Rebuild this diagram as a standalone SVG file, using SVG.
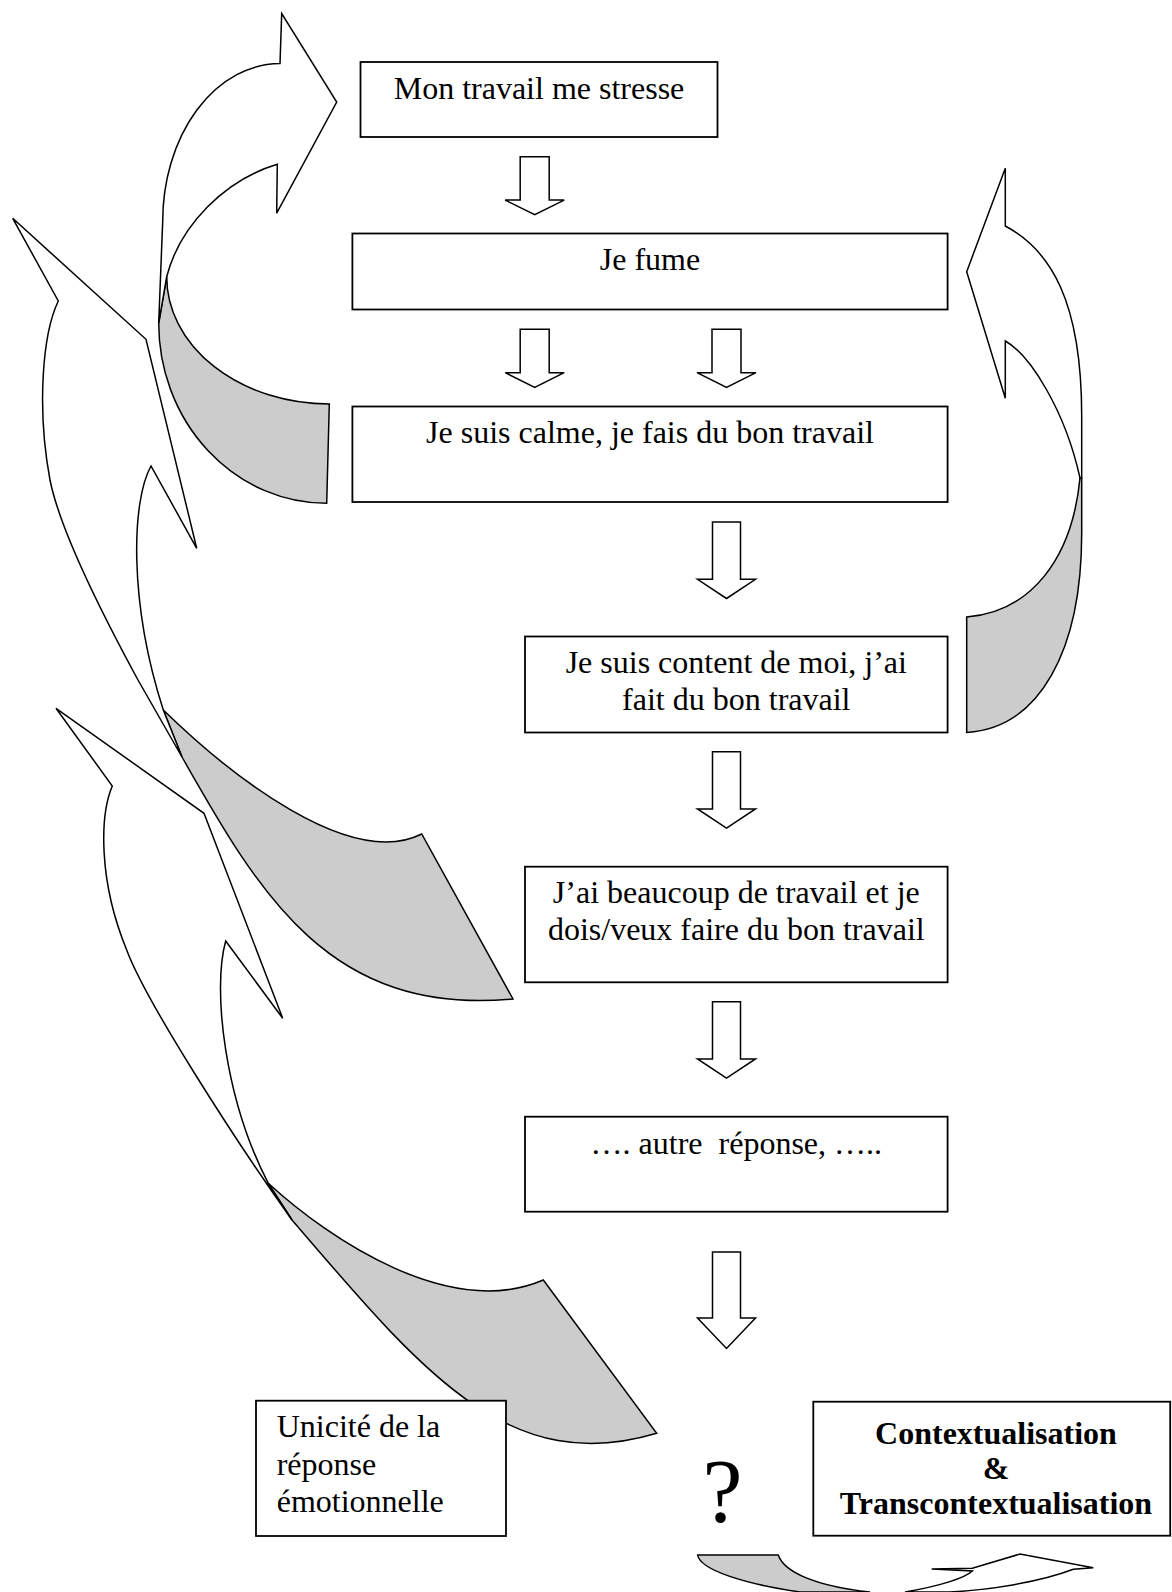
<svg xmlns="http://www.w3.org/2000/svg" width="1172" height="1592" viewBox="0 0 1172 1592">
  <style>
    .box { fill: #ffffff; stroke: #000000; stroke-width: 1.8; }
    .txt { font-family: "Liberation Serif", "Times New Roman", serif; font-size: 32px; fill: #000000; }
    .mid { text-anchor: middle; }
    .bold { font-weight: bold; }
    .blk { fill: #ffffff; stroke: #000000; stroke-width: 1.5; stroke-linejoin: miter; }
    .front { fill: #ffffff; stroke: #000000; stroke-width: 1.5; stroke-linejoin: miter; }
    .back { fill: #cccccc; stroke: #000000; stroke-width: 1.5; stroke-linejoin: miter; }
  </style>
  <defs>
    <!-- block arrow pointing down, origin at top centre of the shaft -->
    <path id="down-short" d="M-14.5,0 L14.5,0 L14.5,43.4 L29.5,43.4 L0,58 L-29.5,43.4 L-14.5,43.4 Z"/>
    <path id="down-mid" d="M-14,0 L14,0 L14,57.3 L29,57.3 L0,76.5 L-29,57.3 L-14,57.3 Z"/>
    <path id="down-long" d="M-14,0 L14,0 L14,66 L29,66 L0,96.5 L-29,66 L-14,66 Z"/>
  </defs>
  <rect width="1172" height="1592" fill="#ffffff"/>

  <g id="connectors">
    <!-- straight block arrows down the main column -->
    <use href="#down-short" class="blk" x="534.7" y="156.7"/>
    <use href="#down-short" class="blk" x="534.7" y="329.3"/>
    <use href="#down-short" class="blk" x="726.5" y="329.3"/>
    <use href="#down-mid" class="blk" x="726.5" y="522"/>
    <use href="#down-mid" class="blk" x="726.5" y="751.7"/>
    <use href="#down-mid" class="blk" x="726.5" y="1001.7"/>
    <use href="#down-long" class="blk" x="726.5" y="1252"/>

    <!-- curved arrow: calm box back up to the stress box -->
    <g id="loop-a">
      <path class="back" d="M166.7,276.7 A162.6 127.3 0 0 0 329.3,404 L326.7,503.3 A168 180.3 0 0 1 158.7,323 Z"/>
      <path class="front" d="M280,63.6 L281.7,13.6 L336.7,102 L276.7,213.2 L277.3,164.3 C225,180 180,225 166.7,276.7 L158.7,323 L162.7,221.4 A117.3 157.8 0 0 1 280,63.6 Z"/>
    </g>

    <!-- curved arrow: right side, content box back up to "Je fume" -->
    <g id="loop-d">
      <path class="back" d="M1080,478 C1072,560 1030,612 966.7,617 L966.7,732.5 C1040,728 1081.7,650 1081.7,533 L1081.7,478 Z"/>
      <path class="front" d="M1005.3,226 L1005.3,168.3 L966.7,271.7 L1005.3,398.3 L1005.3,341 C1030,355 1065,410 1080,478 L1081.7,478 L1081.7,416 C1081.7,300 1050,250 1005.3,226 Z"/>
    </g>

    <!-- long curved arrow on the left, from the workload box up -->
    <g id="loop-b">
      <path class="back" d="M163.3,710 C230,775 350,870 421.7,834 L513,999 C330,1016 260,895 182,757 Z"/>
      <path class="front" d="M12.7,218.3 L58.3,301 C42,335 37,410 50,480 C60,530 100,610 138,680 L182,757 L163.3,710 C128,600 132,500 151,466 L196.7,548.3 L146,339.3 Z"/>
    </g>

    <!-- lowest curved arrow on the left, from the "?" up -->
    <g id="loop-c">
      <path class="back" d="M268.3,1183.3 C330,1240 450,1320 543.3,1280 L656.7,1433.3 C506.7,1478.3 420,1368.7 292,1220 Z"/>
      <path class="front" d="M56,708.3 L112.3,786 C100,815 98,880 126.7,950 C145,1000 235,1140 292,1220 L268.3,1183.3 C225,1100 212,990 225.7,941 L282.7,1018.3 L204,813.3 Z"/>
    </g>

    <!-- small flattened arrow under the "?" -->
    <g id="loop-e">
      <path class="back" d="M697.7,1555 L778.3,1555 C784,1572 815,1586 870,1592 L800,1592 C745,1584 700,1570 697.7,1555 Z"/>
      <path class="front" d="M931.7,1569 L972.3,1568.3 L1020,1554 L1093.3,1567.7 L1073.3,1569.3 C1040,1582 990,1590 950,1592 L905,1592 C940,1586 965,1578 972.3,1571 Z"/>
    </g>
  </g>

  <g id="node-stress">
    <rect class="box" x="360.5" y="62" width="357" height="75"/>
    <text class="txt mid" x="539" y="99.3">Mon travail me stresse</text>
  </g>

  <g id="node-fume">
    <rect class="box" x="352.4" y="233.5" width="595.2" height="76"/>
    <text class="txt mid" x="650" y="270">Je fume</text>
  </g>

  <g id="node-calme">
    <rect class="box" x="352.4" y="406.5" width="595.2" height="95.5"/>
    <text class="txt mid" x="650" y="443.3">Je suis calme, je fais du bon travail</text>
  </g>

  <g id="node-content">
    <rect class="box" x="525" y="636.5" width="422.6" height="96"/>
    <text class="txt mid" x="736.3" y="673.3">Je suis content de moi, j’ai</text>
    <text class="txt mid" x="736.3" y="710">fait du bon travail</text>
  </g>

  <g id="node-beaucoup">
    <rect class="box" x="525" y="866.7" width="422.6" height="115.6"/>
    <text class="txt mid" x="736.3" y="903.3">J’ai beaucoup de travail et je</text>
    <text class="txt mid" x="736.3" y="940">dois/veux faire du bon travail</text>
  </g>

  <g id="node-autre">
    <rect class="box" x="525" y="1116.7" width="422.6" height="95"/>
    <text class="txt mid" x="736.3" y="1154" style="white-space:pre">…. autre  réponse, …..</text>
  </g>

  <g id="node-unicite">
    <rect class="box" x="256" y="1400.7" width="250" height="135.3"/>
    <text class="txt" x="276.7" y="1437.3">Unicité de la</text>
    <text class="txt" x="276.7" y="1474.5">réponse</text>
    <text class="txt" x="276.7" y="1511.7">émotionnelle</text>
  </g>

  <g id="node-question">
    <text class="txt mid" x="722.5" y="1522" style="font-size:90px">?</text>
  </g>

  <g id="node-context">
    <rect class="box" x="813.3" y="1401.7" width="356.9" height="134"/>
    <text class="txt mid bold" x="996" y="1444">Contextualisation</text>
    <text class="txt mid bold" x="996" y="1479">&amp;</text>
    <text class="txt mid bold" x="996" y="1514">Transcontextualisation</text>
  </g>
</svg>
